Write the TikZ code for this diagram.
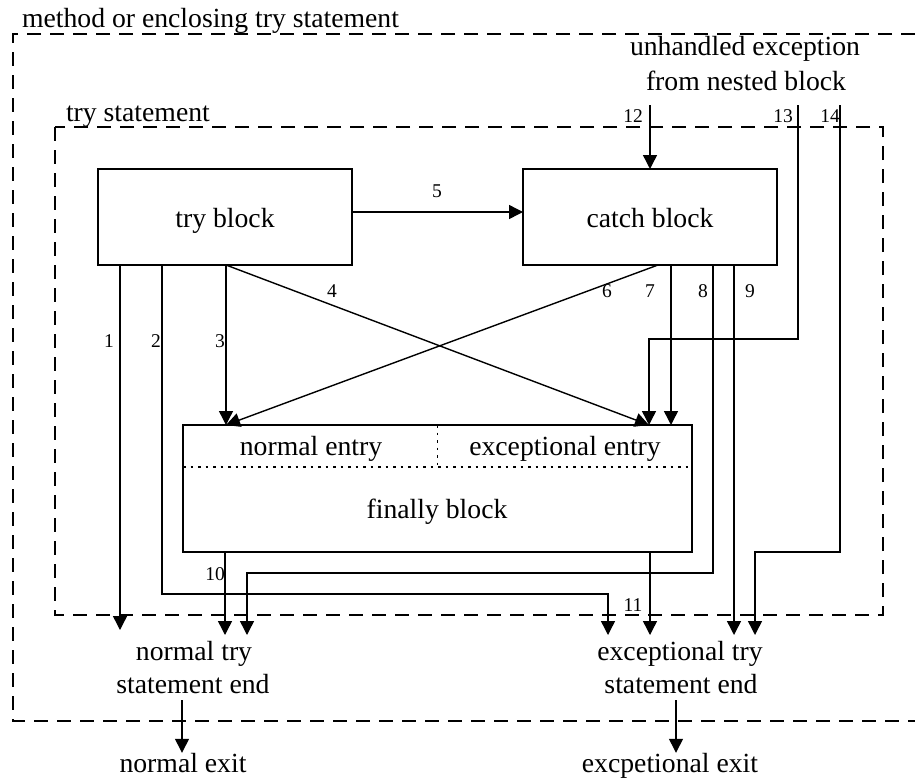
\documentclass[tikz,border=0pt]{standalone}
\usepackage{fontspec}
\setmainfont{Liberation Serif}
\usetikzlibrary{arrows.meta}
\begin{document}
\begin{tikzpicture}[x=1pt,y=-1pt,
  every node/.style={inner sep=0pt, outer sep=0pt},
  txt/.style={font=\fontsize{27.7}{33}\selectfont, anchor=base},
  num/.style={font=\fontsize{19.5}{23}\selectfont, anchor=base},
  blk/.style={draw, line width=1.4pt, font=\fontsize{27.7}{33}\selectfont,
              text height=22pt, text depth=2pt},
  flow/.style={line width=1.4pt, -{Triangle[length=14pt,width=14pt]}},
  frame/.style={line width=1.4pt, dash pattern=on 14pt off 9pt},
  sep/.style={line width=1.2pt, dash pattern=on 2.5pt off 5pt}]
\useasboundingbox (0,0) rectangle (915,780);

% enclosing frames
\draw[frame] (915,34) -- (13,34) -- (13,721) -- (915,721);
\draw[frame] (55,127) rectangle (883,615);
\node[txt, anchor=base west] (lmeth) at (22,27) {method or enclosing try statement};
\node[txt, anchor=base west] (ltry) at (66,121) {try statement};

% blocks
\node[blk, minimum width=254pt, minimum height=96pt] (tryb) at (225,217) {try block};
\node[blk, minimum width=254pt, minimum height=96pt] (catb) at (650,217) {catch block};
\node[draw, line width=1.4pt, minimum width=509pt, minimum height=127pt] (fin) at (437.5,488.5) {};
\draw[sep] ([yshift=-42pt]fin.north west) -- ([yshift=-42pt]fin.north east);
\draw[sep] (fin.north) -- ([yshift=-42pt]fin.north);
\node[txt] (nentry) at (311,455) {normal entry};
\node[txt] (xentry) at (565,455) {exceptional entry};
\node[txt] (ftext) at (437,518) {finally block};

% source of nested exceptions
\node[txt] (unh1) at (745,55) {unhandled exception};
\node[txt] (unh2) at (746,90) {from nested block};

% end points
\node[txt] (nend1) at (194,660) {normal try};
\node[txt] (nend2) at (193,693) {statement end};
\node[txt] (xend1) at (680,660) {exceptional try};
\node[txt] (xend2) at (681,693) {statement end};
\node[txt] (nexit) at (183,772) {normal exit};
\node[txt] (xexit) at (670,772) {excpetional exit};

% routing coordinates
\coordinate (nin) at (226,425);
\coordinate (xin) at (649,425);
\coordinate (xin2) at (671,425);
\coordinate (a5) at (0,212);
\coordinate (s6) at (658,0);
\coordinate (e1) at (120,630);
\coordinate (c2) at (162,594);
\coordinate (e2) at (608,635);
\coordinate (c8) at (713,573);
\coordinate (e8) at (247,635);
\coordinate (e9) at (734,635);
\coordinate (e10) at (225,635);
\coordinate (e11) at (650,635);
\coordinate (s12) at (650,105);
\coordinate (s13) at (798,105);
\coordinate (c13) at (798,339);
\coordinate (s14) at (840,105);
\coordinate (c14) at (840,552);
\coordinate (e14) at (755,635);
\coordinate (nx) at (182,0);
\coordinate (xx) at (676,0);

% transfers of control
\draw[flow] (tryb.south -| e1) -- (e1);
\draw[flow] (tryb.south -| c2) -- (c2) -| (e2);
\draw[flow] (tryb.south -| nin) -- (nin);
\draw[flow] (tryb.south -| nin) -- (xin);
\draw[flow] (tryb.east |- a5) -- (catb.west |- a5);
\draw[flow] (catb.south -| s6) -- (nin);
\draw[flow] (catb.south -| xin2) -- (xin2);
\draw[flow] (catb.south -| c8) -- (c8) -| (e8);
\draw[flow] (catb.south -| e9) -- (e9);
\draw[flow] (fin.south -| e10) -- (e10);
\draw[flow] (fin.south -| e11) -- (e11);
\draw[flow] (s12) -- (catb.north -| s12);
\draw[flow] (s13) -- (c13) -| (xin);
\draw[flow] (s14) -- (c14) -| (e14);
\draw[flow, shorten <=7pt] (nend2.south -| nx) -- (nexit.north -| nx);
\draw[flow, shorten <=7pt] (xend2.south -| xx) -- (xexit.north -| xx);

% edge numbers
\node[num] (n1) at (109,347) {1};
\node[num] (n2) at (156,347) {2};
\node[num] (n3) at (220,347) {3};
\node[num] (n4) at (332,297) {4};
\node[num] (n5) at (437,197) {5};
\node[num] (n6) at (607,297) {6};
\node[num] (n7) at (650,297) {7};
\node[num] (n8) at (703,297) {8};
\node[num] (n9) at (750,297) {9};
\node[num] (n10) at (215,580) {10};
\node[num] (n11) at (633,611) {11};
\node[num] (n12) at (633,122) {12};
\node[num] (n13) at (783,122) {13};
\node[num] (n14) at (830,122) {14};
\end{tikzpicture}
\end{document}
